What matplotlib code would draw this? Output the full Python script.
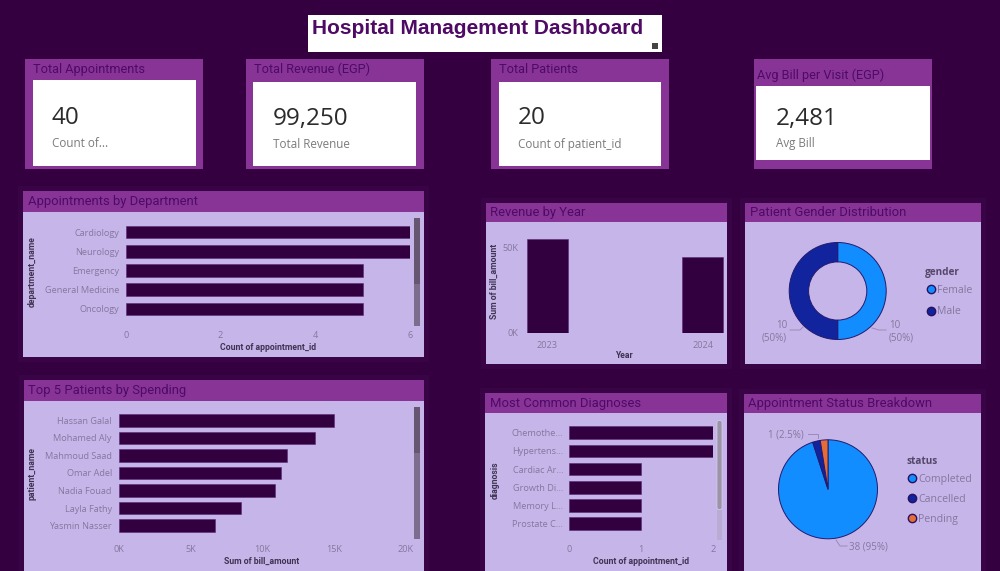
import matplotlib
matplotlib.use('Agg')
import matplotlib.pyplot as plt
from matplotlib.lines import Line2D
from matplotlib.patches import Rectangle, FancyBboxPatch

W, H = 1000, 571

# data
departments = ['Cardiology', 'Neurology', 'Emergency', 'General Medicine', 'Oncology']
dept_counts = [6, 6, 5, 5, 5]
patients = ['Hassan Galal', 'Mohamed Aly', 'Mahmoud Saad', 'Omar Adel', 'Nadia Fouad', 'Layla Fathy', 'Yasmin Nasser']
patient_bills = [15000, 13700, 11700, 11300, 10900, 8500, 6700]
years = ['2023', '2024']
year_revenue = [55000, 44250]
diagnoses = ['Chemothe...', 'Hypertens...', 'Cardiac Ar...', 'Growth Di...', 'Memory L...', 'Prostate C...']
diagnosis_counts = [2, 2, 1, 1, 1, 1]
genders = ['Female', 'Male']
gender_counts = [10, 10]
statuses = ['Completed', 'Cancelled', 'Pending']
status_counts = [38, 1, 1]

BG = '#34003f'
HEAD = '#873496'
BODY = '#c5b5e9'
DARK = '#33003f'
TITLE_C = '#4f0a66'
TICK_C = '#85779f'
LAB_C = '#3f3352'
BLUE = '#118dff'
NAVY = '#12239e'
ORANGE = '#e66c37'
GLOW = '#390445'

plt.rcParams['font.family'] = ['Open Sans', 'DejaVu Sans']

fig = plt.figure(figsize=(W / 100, H / 100), dpi=100, facecolor=BG)
bg = fig.add_axes([0, 0, 1, 1], zorder=0)
bg.set_xlim(0, W)
bg.set_ylim(H, 0)
bg.axis('off')


def rect(x0, y0, x1, y1, color, **kw):
    bg.add_patch(Rectangle((x0, y0), x1 - x0, y1 - y0, facecolor=color, edgecolor='none', **kw))


def panel(x0, y0, x1, y1, head_y, title):
    # faint glow around the visual
    rect(x0 - 5, y0 - 5, x1 + 5, y1 + 5, GLOW)
    rect(x0, y0, x1, y1, BODY)
    rect(x0, y0, x1, head_y, HEAD)
    bg.text(x0 + 4.5, (y0 + head_y) / 2, title, color=TITLE_C, fontsize=9.4, family='Roboto',
            va='center', ha='left')


def card(x0, x1, wx0, wy0, wx1, wy1, title, title_x, title_y, value, label, text_x, label_y):
    rect(x0, 59, x1, 169, HEAD)
    rect(wx0, wy0, wx1, wy1, 'white')
    bg.text(title_x, title_y, title, color=TITLE_C, fontsize=9.2, family='Roboto', va='center')
    bg.text(text_x, 118.5, value, color='#2b2b2b', fontsize=17.5, va='center')
    bg.text(text_x, label_y, label, color='#7b7b7b', fontsize=8.4, va='center')


def chart_ax(x0, y0, x1, y1):
    ax = fig.add_axes([x0 / W, 1 - y1 / H, (x1 - x0) / W, (y1 - y0) / H], zorder=2)
    ax.patch.set_alpha(0)
    for s in ax.spines.values():
        s.set_visible(False)
    ax.tick_params(length=0, labelsize=6.6, labelcolor=TICK_C)
    return ax


def axis_labels(ax, xlab, ylab, xlab_x, xlab_y, ylab_x, ylab_y):
    ax.set_xlabel(xlab, fontsize=6.2, color=LAB_C, fontweight='bold', family='Roboto', va='center', ha='center')
    ax.set_ylabel(ylab, fontsize=6.2, color=LAB_C, fontweight='bold', family='Roboto', va='center', ha='center')
    ax.xaxis.set_label_coords(xlab_x, xlab_y, transform=bg.transData)
    ax.yaxis.set_label_coords(ylab_x, ylab_y, transform=bg.transData)


def hbars(ax, names, vals, xmax, height):
    ax.barh(names, vals, height=height, color=DARK, edgecolor='#5a2a7a', linewidth=0.4)
    ax.set_xlim(0, xmax)
    ax.set_ylim(len(names) - 0.5, -0.5)


def scrollbar(x0, x1, y0, ym, y1, thumb, track):
    rect(x0, ym, x1, y1, track)
    rect(x0, y0, x1, ym, thumb)


def circle_legend(ax, title, names, colors, x, y, spacing):
    handles = [Line2D([], [], linestyle='none', marker='o', markersize=6, markerfacecolor=c,
                      markeredgecolor='#2a1060', markeredgewidth=1) for c in colors]
    leg = ax.legend(handles, names, title=title, loc='upper left', frameon=False,
                    bbox_to_anchor=(x / W, 1 - y / H), bbox_transform=fig.transFigure,
                    fontsize=7.6, labelcolor=TICK_C, handletextpad=0, labelspacing=spacing,
                    borderaxespad=0, borderpad=0, alignment='left', handlelength=1.1)
    leg.get_title().set_fontsize(7.2)
    leg.get_title().set_fontweight('bold')
    leg.get_title().set_color('#54476a')
    leg._legend_box.sep = 5


# title box
rect(308, 15, 662, 52, 'white')
bg.text(312, 28, 'Hospital Management Dashboard', color=TITLE_C, fontsize=15, fontweight='bold',
        family='Liberation Sans', va='center')
rect(652, 43, 658, 49, '#444444')

# cards
card(25, 203, 33, 80, 195.5, 166, 'Total Appointments', 33, 69.5, '40', 'Count of...', 52, 143.5)
card(246, 424, 253, 82, 416, 166, 'Total Revenue (EGP)', 254, 69.5, '99,250', 'Total Revenue', 273, 144.5)
card(491, 669, 499, 82, 661, 165.5, 'Total Patients', 499, 69.5, '20', 'Count of patient_id', 518, 144.5)
card(754, 932, 756, 86, 930, 160, 'Avg Bill per Visit (EGP)', 757, 75, '2,481', 'Avg Bill', 776, 143.5)

# panels
panel(23, 191, 424, 357, 212, 'Appointments by Department')
panel(24, 380, 424, 571, 401, 'Top 5 Patients by Spending')
panel(486, 203, 727, 364, 222, 'Revenue by Year')
panel(745, 203, 981, 364, 222, 'Patient Gender Distribution')
panel(485, 393, 727, 571, 413, 'Most Common Diagnoses')
panel(744, 394, 981, 571, 413, 'Appointment Status Breakdown')

# appointments by department
ax = chart_ax(125.7, 222.4, 410, 318.6)
hbars(ax, departments, dept_counts, 6, 0.65)
ax.set_xticks([0, 2, 4, 6])
ax.tick_params(axis='x', pad=9)
ax.tick_params(axis='y', pad=4.5)
axis_labels(ax, 'Count of appointment_id', 'department_name', 267.7, 347, 32.3, 271.7)
scrollbar(414, 420, 218, 284, 326, '#665672', '#7c6c8e')

# top patients
ax = chart_ax(118.7, 411.5, 405.7, 534.5)
hbars(ax, patients, patient_bills, 20000, 0.72)
ax.set_xticks([0, 5000, 10000, 15000, 20000])
ax.set_xticklabels(['0K', '5K', '10K', '15K', '20K'])
ax.tick_params(axis='x', pad=7.5)
ax.tick_params(axis='y', pad=5)
axis_labels(ax, 'Sum of bill_amount', 'patient_name', 262, 561.7, 32, 473)
scrollbar(414, 420, 407, 453, 539, '#665672', '#7c6c8e')

# revenue by year
ax = chart_ax(522.6, 232, 726, 332.7)
ax.bar(years, year_revenue, width=0.266, color=DARK, edgecolor='#5a2a7a', linewidth=0.4)
ax.set_xlim(-0.16, 1.15)
ax.set_ylim(0, 58900)
ax.set_yticks([0, 50000])
ax.set_yticklabels(['0K', '50K'])
ax.tick_params(axis='x', pad=6)
ax.tick_params(axis='y', pad=3)
axis_labels(ax, 'Year', 'Sum of bill_amount', 624, 355.7, 494, 281.7)

# gender donut
ax = chart_ax(837.7 - 48.5, 291 - 48.5, 837.7 + 48.5, 291 + 48.5)
ax.pie(gender_counts, colors=[BLUE, NAVY], startangle=90, counterclock=False, radius=1,
       wedgeprops=dict(width=0.4, edgecolor='#241a6e', linewidth=0.7))
ax.set_xlim(-1, 1)
ax.set_ylim(-1, 1)
circle_legend(ax, 'gender', genders, [BLUE, NAVY], 925, 267, 1.0)
bg.plot([872, 879, 886], [328, 330, 330], color='#9a8cb8', lw=0.7)
bg.plot([790, 800, 803], [330, 330, 327], color='#9a8cb8', lw=0.7)
bg.text(889, 325, f'{gender_counts[0]}', color=TICK_C, fontsize=7, va='center')
bg.text(889, 338, '(50%)', color=TICK_C, fontsize=7, va='center')
bg.text(787, 325, f'{gender_counts[1]}', color=TICK_C, fontsize=7, va='center', ha='right')
bg.text(787, 338, '(50%)', color=TICK_C, fontsize=7, va='center', ha='right')

# diagnoses
ax = chart_ax(569.3, 423.6, 712.7, 532.8)
hbars(ax, diagnoses, diagnosis_counts, 2, 0.7)
ax.set_xticks([0, 1, 2])
ax.tick_params(axis='x', pad=9)
ax.tick_params(axis='y', pad=4.5)
axis_labels(ax, 'Count of appointment_id', 'diagnosis', 641, 561.7, 495, 480)
rect(717, 510, 722, 540, '#b9abd4')
bg.add_patch(FancyBboxPatch((717.5, 421), 4, 88, boxstyle='round,pad=0.5,rounding_size=2',
                            facecolor='#9b93a6', edgecolor='#d8cff0', linewidth=0.5))

# status pie
ax = chart_ax(828 - 49.5, 489.3 - 49.5, 828 + 49.5, 489.3 + 49.5)
ax.pie(status_counts, colors=[BLUE, NAVY, ORANGE], startangle=90, counterclock=False, radius=1,
       wedgeprops=dict(edgecolor='#241a6e', linewidth=0.7))
ax.set_xlim(-1, 1)
ax.set_ylim(-1, 1)
circle_legend(ax, 'status', statuses, [BLUE, NAVY, ORANGE], 906.5, 456, 0.85)
bg.plot([808, 818, 818], [434, 434, 438], color='#9a8cb8', lw=0.7)
bg.plot([836, 840, 847], [540, 546, 546], color='#9a8cb8', lw=0.7)
bg.text(804, 435, f'{status_counts[1]} (2.5%)', color=TICK_C, fontsize=7, va='center', ha='right')
bg.text(849, 547, f'{status_counts[0]} (95%)', color=TICK_C, fontsize=7, va='center')

fig.savefig('out.png', dpi=100, facecolor=BG)
